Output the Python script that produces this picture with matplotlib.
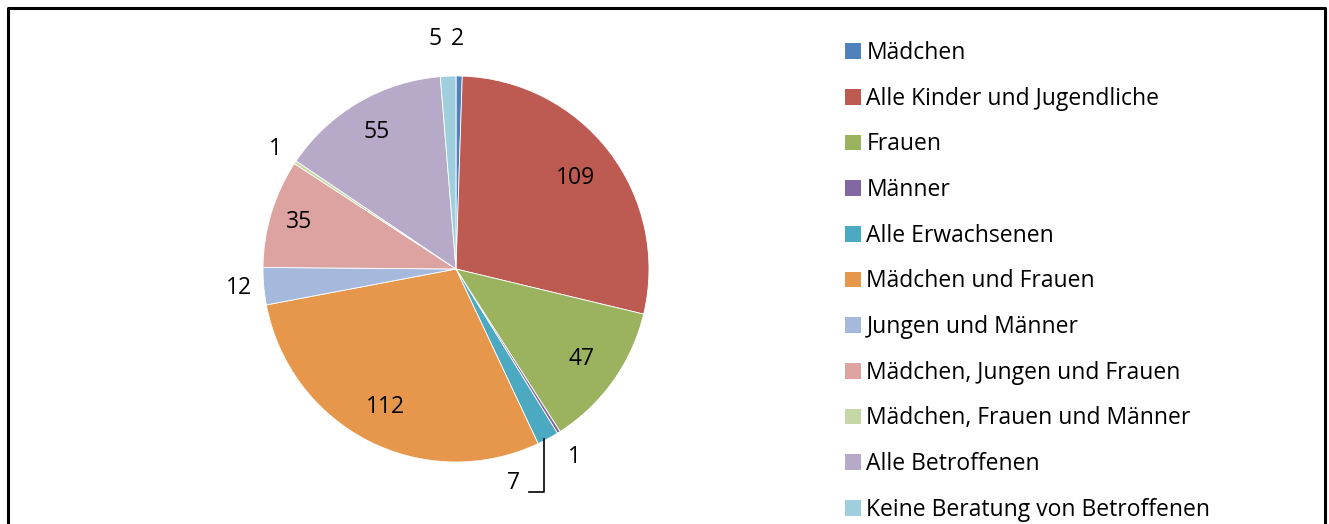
import numpy as np
import matplotlib.pyplot as plt
from matplotlib.patches import Patch

categories = ['Mädchen', 'Alle Kinder und Jugendliche', 'Frauen', 'Männer',
              'Alle Erwachsenen', 'Mädchen und Frauen', 'Jungen und Männer',
              'Mädchen, Jungen und Frauen', 'Mädchen, Frauen und Männer',
              'Alle Betroffenen', 'Keine Beratung von Betroffenen']
values = [2, 109, 47, 1, 7, 112, 12, 35, 1, 55, 5]
colors = ['#4F81BD', '#BD5B52', '#9BB35E', '#8267A3', '#4BA9C2', '#E6974B',
          '#A4B9DC', '#DCA3A1', '#C5D7A4', '#B7AAC9', '#9FCFDD']

plt.rcParams['font.family'] = ['Open Sans', 'DejaVu Sans']
W, H = 1329, 524
fig = plt.figure(figsize=(W / 100, H / 100), dpi=100)

# frame (no bottom edge visible)
fx0, fx1, fy = 8 / W, 1325 / W, 1 - 8 / H
fig.add_artist(plt.Line2D([fx0, fx0, fx1, fx1], [0, fy, fy, 0],
                          transform=fig.transFigure, color='black', lw=2.2))

cx, cy, R = 456, 269, 193
ax = fig.add_axes([(cx - R) / W, (H - cy - R) / H, 2 * R / W, 2 * R / H])
wedges, _ = ax.pie(values, colors=colors, startangle=90, counterclock=False,
                   radius=1, wedgeprops=dict(linewidth=0.6, edgecolor='white'))
ax.set_xlim(-1, 1)
ax.set_ylim(-1, 1)
ax.set_aspect('equal')
ax.axis('off')

fs = 16.5
# (radius factor, x shift) for each label
place = [(1.19, 0.02), (0.78, 0), (0.80, 0), (1.15, 0), (1.15, 0),
         (0.80, 0), (1.13, 0), (0.85, 0), (1.12, 0), (0.82, 0), (1.19, -0.05)]
for w, v, (rf, dx) in zip(wedges, values, place):
    mid = np.deg2rad((w.theta1 + w.theta2) / 2)
    x, y = rf * np.cos(mid) + dx, rf * np.sin(mid)
    if v == 2:
        x, y = 0.01, 1.19
    if v == 5:
        x, y = -0.11, 1.19
    if v == 7:
        x, y = 0.30, -1.11
    ax.text(x, y, str(v), ha='center', va='center', fontsize=fs, clip_on=False)

# leader line for the "7" label
ax.plot([0.457, 0.457, 0.38], [-0.88, -1.155, -1.155], color='black', lw=1.2,
        clip_on=False)

handles = [Patch(facecolor=c, edgecolor='none') for c in colors]
fig.legend(handles, categories, loc='upper left',
           bbox_to_anchor=(836 / W, 1 - 32 / H), frameon=False, fontsize=fs,
           handlelength=0.68, handleheight=0.68, handletextpad=0.25,
           labelspacing=0.945, borderaxespad=0)

fig.savefig('out.png', dpi=100)
